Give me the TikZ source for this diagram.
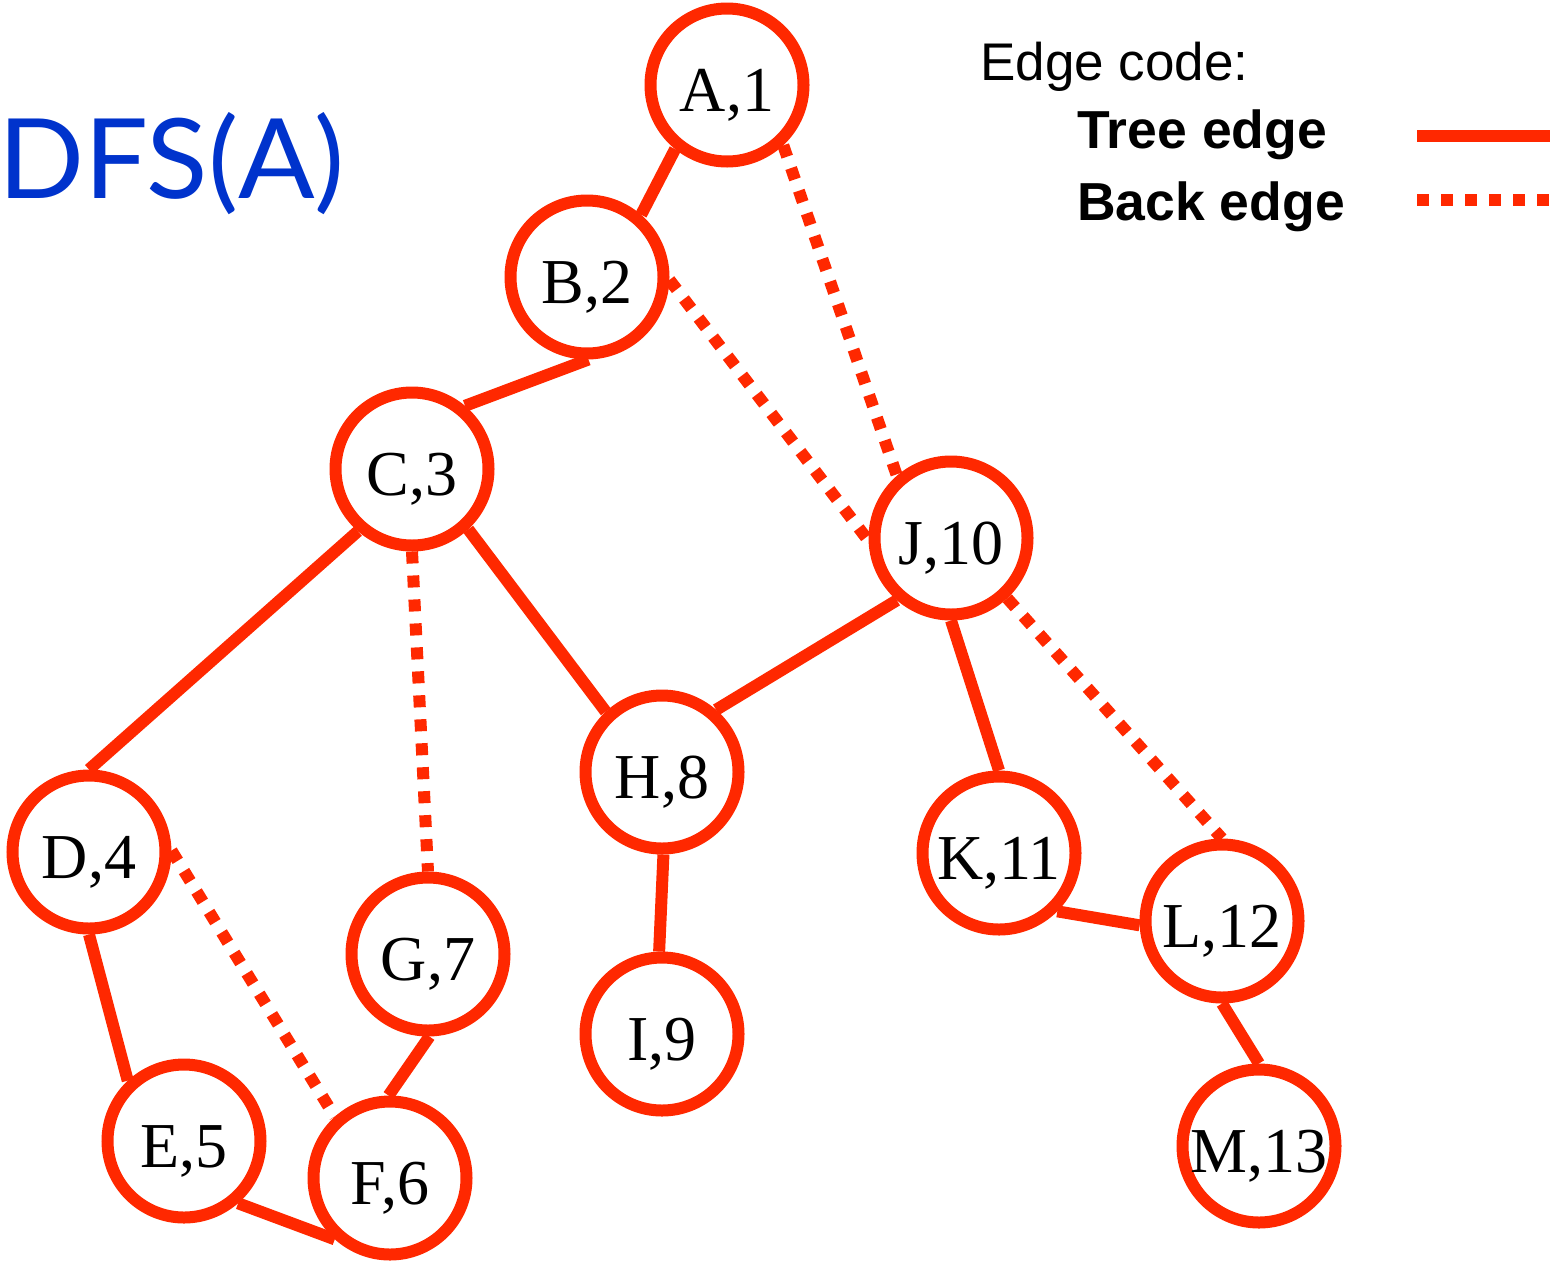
\documentclass[tikz,border=0pt]{standalone}
\usepackage{fontspec}
\setmainfont{Liberation Serif}
\newfontfamily\legfont{Liberation Sans}
\newfontfamily\titlefont{Lato}
\definecolor{edgered}{RGB}{255,40,0}
\definecolor{titleblue}{RGB}{0,51,204}
\begin{document}
\begin{tikzpicture}[x=1pt,y=-1pt,
  vertex/.style={circle, draw=edgered, line width=12pt, fill=white, minimum size=153pt,
    inner sep=0pt, font=\fontsize{64}{70}\selectfont, text height=52.5pt, text depth=0pt},
  tree/.style={draw=edgered, line width=12pt},
  back/.style={draw=edgered, line width=12pt, dash pattern=on 12pt off 12pt},
  plain/.style={anchor=base west, inner sep=0pt}]
\useasboundingbox (0,0) rectangle (1554,1264);

% vertices
\node[vertex] (A) at (727,85)   {A,1};
\node[vertex] (B) at (587,277)  {B,2};
\node[vertex] (C) at (412,469)  {C,3};
\node[vertex] (D) at (89,852)   {D,4};
\node[vertex] (E) at (184,1141) {E,5};
\node[vertex] (F) at (390,1178) {F,6};
\node[vertex] (G) at (428,954)  {G,7};
\node[vertex] (H) at (662,772)  {H,8};
\node[vertex] (I) at (662,1034) {I,9};
\node[vertex] (J) at (951,538)  {J,10};
\node[vertex] (K) at (999,853)  {K,11};
\node[vertex] (L) at (1222,921) {L,12};
\node[vertex] (M) at (1259,1146){M,13};

% tree edges
\draw[tree] (A.231) -- (B.49);
\draw[tree] (B.271) -- (C.50);
\draw[tree] (C.229.5) -- (D.90);
\draw[tree] (C.313) -- (H.133);
\draw[tree] (J.229) -- (H.49);
\draw[tree] (J.270) -- (K.90);
\draw[tree] (D.270) -- (E.133);
\draw[tree] (G.271) -- (F.91);
\draw[tree] (E.311) -- (F.228.5);
\draw[tree] (H.271) -- (I.92);
\draw[tree] (K.315) -- (L.183);
\draw[tree] (L.270) -- (M.90);

% back edges
\draw[back] (A.313) -- (J.131);
\draw[back] (B.358) -- (J.182);
\draw[back] (C.270) -- (G.90);
\draw[back] (J.313.5) -- (L.90);
\draw[back] (D.1) -- (F.132);

% title
\node[plain, text=titleblue, font=\titlefont\fontsize{111}{120}\selectfont] (title) at (-2,198) {\scalebox{1.02}[1]{DFS(A)}};

% legend
\node[plain, font=\legfont\fontsize{53}{60}\selectfont] (code) at (980,80) {Edge code:};
\node[plain, font=\legfont\bfseries\fontsize{53.5}{60}\selectfont] (treelab) at (1077,148) {Tree edge};
\node[plain, font=\legfont\bfseries\fontsize{53.5}{60}\selectfont] (backlab) at (1077,220) {Back edge};
\coordinate (t1) at (1417,135.5);
\coordinate (t2) at (1550,135.5);
\coordinate (b1) at (1417,200);
\coordinate (b2) at (1550,200);
\draw[tree] (t1) -- (t2);
\draw[back] (b1) -- (b2);
\end{tikzpicture}
\end{document}
